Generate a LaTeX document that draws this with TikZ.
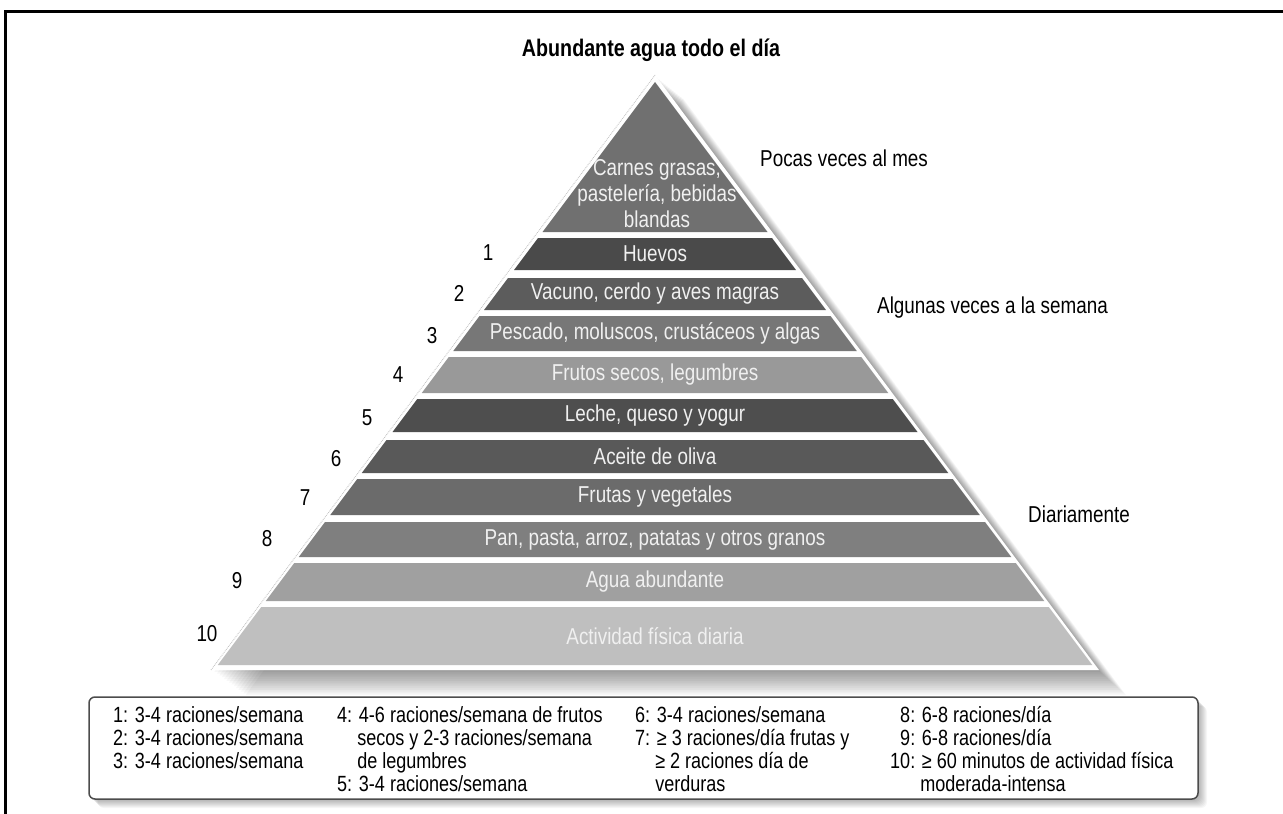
\documentclass[tikz,border=0pt]{standalone}
\usepackage{fontspec}
\setmainfont{Liberation Sans}[FakeStretch=0.82]
\definecolor{c0}{HTML}{707070}
\definecolor{c1}{HTML}{4A4A4A}
\definecolor{c2}{HTML}{5C5C5C}
\definecolor{c3}{HTML}{777777}
\definecolor{c4}{HTML}{999999}
\definecolor{c5}{HTML}{4E4E4E}
\definecolor{c6}{HTML}{595959}
\definecolor{c7}{HTML}{6B6B6B}
\definecolor{c8}{HTML}{7F7F7F}
\definecolor{c9}{HTML}{A0A0A0}
\definecolor{c10}{HTML}{BFBFBF}
\begin{document}
\begin{tikzpicture}[x=1pt,y=-1pt,
  lay/.style={font=\fontsize{23}{26}\selectfont, text=white!94!black, inner sep=0pt},
  num/.style={font=\fontsize{23}{26}\selectfont, text=black, inner sep=0pt},
  leg/.style={font=\fontsize{22}{23}\selectfont, anchor=base west, inner sep=0pt},
  side/.style={font=\fontsize{23}{26}\selectfont, anchor=west, inner sep=0pt},
  ttl/.style={font=\fontsize{24}{28}\selectfont\bfseries, inner sep=0pt}
]
\useasboundingbox (0,0) rectangle (1283,814);
\fill[white] (0,0) rectangle (1283,814);
% frame
\draw[line width=3pt] (1283,11) -- (5,11) -- (5,814);
% title
\node[ttl] (T) at (651,50) {Abundante agua todo el día};
% pyramid shadow
\foreach \k in {1,...,14} {
  \fill[black, opacity=0.03] (655+\k*2,76+\k*1.6) -- (1098+\k*2,670+\k*1.8) -- (212+\k*2.4,670+\k*1.8) -- cycle;
}
% white underlay
\fill[white] (655,75) -- (1099,670) -- (211,670) -- cycle;
\draw[black!25, densely dotted, line width=0.8pt] (655,75) -- (211,670);
% top triangle
\fill[c0] (655,82) -- (767.5,232) -- (542.5,232) -- cycle;
\node[lay, align=center] (L0) at (657,194) {Carnes grasas,\\pastelería, bebidas\\blandas};
% layers
\foreach \n/\yt/\yb/\c/\txt in {
  1/238/270/c1/Huevos,
  2/278/310/c2/{Vacuno, cerdo y aves magras},
  3/316/351/c3/{Pescado, moluscos, crustáceos y algas},
  4/357/393/c4/{Frutos secos, legumbres},
  5/399/432/c5/{Leche, queso y yogur},
  6/440/473/c6/{Aceite de oliva},
  7/479/515/c7/{Frutas y vegetales},
  8/522/557/c8/{Pan, pasta, arroz, patatas y otros granos},
  9/563/601/c9/{Agua abundante},
  10/607/665/c10/{Actividad física diaria}} {
  \pgfmathsetmacro\a{0.75*(\yt-82)}
  \pgfmathsetmacro\b{0.75*(\yb-82)}
  \pgfmathsetmacro\m{(\yt+\yb)/2}
  \fill[\c] (655-\a,\yt) -- (655+\a,\yt) -- (655+\b,\yb) -- (655-\b,\yb) -- cycle;
  \node[lay] (L\n) at (655,\m) {\txt};
}
% numbers
\node[num] (n1) at (488,253) {1};
\node[num] (n2) at (459,293) {2};
\node[num] (n3) at (432,336) {3};
\node[num] (n4) at (398,375) {4};
\node[num] (n5) at (367,418) {5};
\node[num] (n6) at (336,459) {6};
\node[num] (n7) at (305,498) {7};
\node[num] (n8) at (267,539) {8};
\node[num] (n9) at (237,581) {9};
\node[num] (n10) at (207,634) {10};
% side labels
\node[side] (p1) at (760,158) {Pocas veces al mes};
\node[side] (p2) at (877,308) {Algunas veces a la semana};
\node[side] (p3) at (1028,514) {Diariamente};
% legend box
\foreach \k in {1,...,9} {
  \fill[black, opacity=0.035, rounded corners=6pt] (89+\k,697+\k) rectangle (1198+\k,799+\k);
}
\draw[black!70, line width=1.5pt, fill=white, rounded corners=6pt] (89,697) rectangle (1198,799);
% legend text
\node[leg] (g1) at (113,722) {1: 3-4 raciones/semana};
\node[leg] (g2) at (113,745) {2: 3-4 raciones/semana};
\node[leg] (g3) at (113,768) {3: 3-4 raciones/semana};
\node[leg] (g4a) at (337,722) {4: 4-6 raciones/semana de frutos};
\node[leg] (g4b) at (337,745) {\hphantom{4:}\ secos y 2-3 raciones/semana};
\node[leg] (g4c) at (337,768) {\hphantom{4:}\ de legumbres};
\node[leg] (g5) at (337,791) {5: 3-4 raciones/semana};
\node[leg] (g6) at (635,722) {6: 3-4 raciones/semana};
\node[leg] (g7a) at (635,745) {7: ≥ 3 raciones/día frutas y};
\node[leg] (g7b) at (635,768) {\hphantom{7:}\ ≥ 2 raciones día de};
\node[leg] (g7c) at (635,791) {\hphantom{7:}\ verduras};
\node[leg] (g8) at (890,722) {\hphantom{1}8: 6-8 raciones/día};
\node[leg] (g9) at (890,745) {\hphantom{1}9: 6-8 raciones/día};
\node[leg] (g10a) at (890,768) {10: ≥ 60 minutos de actividad física};
\node[leg] (g10b) at (890,791) {\hphantom{10:}\ moderada-intensa};
\end{tikzpicture}
\end{document}
